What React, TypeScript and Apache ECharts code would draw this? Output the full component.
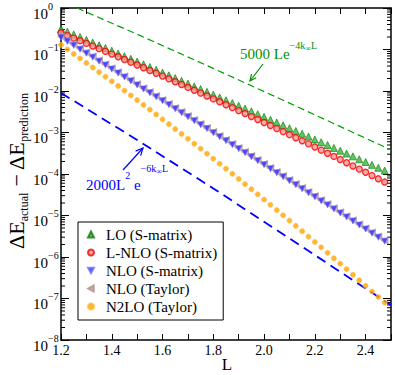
import React, { useEffect, useRef } from 'react';
import * as echarts from 'echarts';

const L = [1.2, 1.225, 1.25, 1.275, 1.3, 1.325, 1.35, 1.375, 1.4, 1.425, 1.45, 1.475, 1.5, 1.525, 1.55, 1.575, 1.6, 1.625, 1.65, 1.675, 1.7, 1.725, 1.75, 1.775, 1.8, 1.825, 1.85, 1.875, 1.9, 1.925, 1.95, 1.975, 2.0, 2.025, 2.05, 2.075, 2.1, 2.125, 2.15, 2.175, 2.2, 2.225, 2.25, 2.275, 2.3, 2.325, 2.35, 2.375, 2.4, 2.425, 2.45, 2.475];

const LO_S = [0.312, 0.269, 0.231, 0.199, 0.171, 0.147, 0.1265, 0.109, 0.0938, 0.0805, 0.0692, 0.0596, 0.0512, 0.044, 0.0378, 0.0324, 0.0278, 0.0239, 0.0205, 0.0176, 0.0151, 0.0129, 0.0111, 0.00953, 0.00817, 0.007, 0.006, 0.00514, 0.00442, 0.00378, 0.00324, 0.00277, 0.00238, 0.00203, 0.00174, 0.00149, 0.00127, 0.00109, 0.000933, 0.000798, 0.000682, 0.000583, 0.000499, 0.000426, 0.000364, 0.000311, 0.000266, 0.000227, 0.000194, 0.000166, 0.000141, 0.000121];

const LNLO_S = [0.251, 0.217, 0.188, 0.163, 0.14, 0.121, 0.105, 0.0901, 0.0776, 0.0668, 0.0574, 0.0494, 0.0424, 0.0364, 0.0312, 0.0267, 0.0229, 0.0196, 0.0167, 0.0143, 0.0122, 0.0104, 0.00889, 0.00758, 0.00646, 0.0055, 0.00467, 0.00397, 0.00337, 0.00286, 0.00242, 0.00205, 0.00174, 0.00147, 0.00124, 0.00105, 0.000886, 0.000748, 0.00063, 0.000531, 0.000447, 0.000376, 0.000316, 0.000265, 0.000223, 0.000187, 0.000156, 0.000131, 0.00011, 0.0000917, 0.0000766, 0.000064];

const NLO_S = [0.195, 0.157, 0.126, 0.101, 0.0813, 0.0652, 0.0524, 0.0421, 0.0337, 0.0271, 0.0217, 0.0175, 0.014, 0.0112, 0.00902, 0.00723, 0.00581, 0.00466, 0.00373, 0.00299, 0.0024, 0.00192, 0.00154, 0.00124, 0.000991, 0.000793, 0.000635, 0.000509, 0.000407, 0.000327, 0.000261, 0.000209, 0.000168, 0.000134, 0.000107, 0.0000859, 0.0000689, 0.0000551, 0.0000441, 0.0000352, 0.0000282, 0.0000225, 0.000018, 0.0000144, 0.0000115, 0.0000092, 0.00000736, 0.00000589, 0.0000047, 0.00000376, 0.000003, 0.0000024];

const NLO_T = [0.205, 0.164, 0.132, 0.106, 0.085, 0.0683, 0.0548, 0.044, 0.0353, 0.0283, 0.0227, 0.0182, 0.0146, 0.0117, 0.0094, 0.00755, 0.00606, 0.00486, 0.00389, 0.00312, 0.0025, 0.002, 0.00161, 0.00129, 0.00103, 0.000827, 0.000662, 0.000531, 0.000424, 0.000341, 0.000272, 0.000218, 0.000175, 0.00014, 0.000112, 0.0000896, 0.0000718, 0.0000575, 0.000046, 0.0000367, 0.0000294, 0.0000235, 0.0000188, 0.000015, 0.000012, 0.0000096, 0.00000768, 0.00000614, 0.0000049, 0.00000392, 0.00000313, 0.0000025];

const N2LO_T = [0.129, 0.1005, 0.0783, 0.061, 0.0474, 0.0368, 0.0285, 0.0221, 0.0171, 0.0132, 0.0102, 0.00783, 0.00603, 0.00463, 0.00355, 0.00272, 0.00208, 0.00159, 0.00121, 0.000926, 0.000705, 0.000536, 0.000407, 0.000309, 0.000234, 0.000177, 0.000134, 0.000101, 0.000076, 0.0000572, 0.000043, 0.0000323, 0.0000242, 0.0000181, 0.0000135, 0.0000101, 0.00000754, 0.00000562, 0.00000418, 0.0000031, 0.0000023, 0.00000171, 0.00000126, 0.000000933, 0.00000069, 0.000000508, 0.000000374, 0.000000275, 0.000000202, 0.000000148, 0.000000109, 0.0000000794];

const GUIDE4_X = [1.263, 1.5, 1.8, 2.1, 2.5];
const GUIDE4_Y = [1.0, 0.233, 0.035, 0.0051, 0.00038];
const GUIDE6_X = [1.2, 1.5, 1.8, 2.1, 2.5];
const GUIDE6_Y = [0.009, 0.00066, 0.000045, 0.0000028, 0.000000069];

const SERIES_NAMES = ['LO (S-matrix)', 'L-NLO (S-matrix)', 'NLO (S-matrix)', 'NLO (Taylor)', 'N2LO (Taylor)'];

const X_MIN = 1.2;
const X_MAX = 2.5;
const Y_MIN = 1e-8;
const Y_MAX = 1;

const FONT = "'Liberation Serif', 'Times New Roman', Times, serif";

const TRI_DOWN = 'path://M0,0 L10,0 L5,9 Z';
const TRI_LEFT = 'path://M9,0 L9,10 L0,5 Z';

export default function App() {
  const ref = useRef<HTMLDivElement>(null);
  useEffect(() => {
    if (!ref.current) return;
    document.body.style.margin = '0';
    const chart = echarts.init(ref.current, null, { renderer: 'svg' });

    const minorVals: number[][] = [];
    for (let e = -8; e < 0; e++) {
      for (let m = 2; m <= 9; m++) minorVals.push([X_MIN, m * Math.pow(10, e)]);
    }

    const pair = (ys: number[]) => L.map((x, i) => [x, ys[i]]);

    const yLabelFmt = (v: number) => {
      const ex = Math.round(Math.log10(v));
      const s = ex < 0 ? '\u2212' + -ex : String(ex);
      return '{b|10}{e|' + s + '}';
    };

    const axisLine = { show: true, lineStyle: { color: '#000', width: 1.5 } };

    const option: any = {
      animation: false,
      backgroundColor: '#fff',
      textStyle: { fontFamily: FONT },
      grid: { left: 61, right: 4, top: 8, bottom: 35, containLabel: false, outerBoundsMode: 'none' },
      xAxis: [
        {
          type: 'value', position: 'bottom', min: X_MIN, max: X_MAX, interval: 0.1,
          axisLine, splitLine: { show: false },
          axisTick: { inside: true, length: 6, lineStyle: { color: '#000', width: 1 } },
          axisLabel: {
            margin: 3, color: '#000', fontFamily: FONT, fontSize: 14,
            formatter: (v: number) => (Math.round(v * 10) % 2 === 0 && v < 2.45 ? v.toFixed(1) : ''),
          },
        },
        {
          type: 'value', position: 'top', min: X_MIN, max: X_MAX, interval: 0.1,
          axisLine, splitLine: { show: false },
          axisTick: { inside: true, length: 6, lineStyle: { color: '#000', width: 1 } },
          axisLabel: { show: false },
        },
      ],
      yAxis: [
        {
          type: 'log', logBase: 10, position: 'left', min: Y_MIN, max: Y_MAX, interval: 1,
          axisLine, splitLine: { show: false },
          axisTick: { inside: true, length: 8, lineStyle: { color: '#000', width: 1 } },
          axisLabel: {
            align: 'left', margin: 28, color: '#000', fontFamily: FONT,
            padding: [6, 0, 0, 0],
            formatter: yLabelFmt,
            rich: {
              b: { fontFamily: FONT, fontSize: 15, lineHeight: 20, verticalAlign: 'bottom', color: '#000' },
              e: { fontFamily: FONT, fontSize: 10, lineHeight: 10, verticalAlign: 'top', color: '#000' },
            },
          },
        },
        {
          type: 'log', logBase: 10, position: 'right', min: Y_MIN, max: Y_MAX, interval: 1,
          axisLine, splitLine: { show: false },
          axisTick: { inside: true, length: 8, lineStyle: { color: '#000', width: 1 } },
          axisLabel: { show: false },
        },
      ],
      legend: {
        data: [
          { name: SERIES_NAMES[0], icon: 'triangle' },
          { name: SERIES_NAMES[1], icon: 'circle' },
          { name: SERIES_NAMES[2], icon: TRI_DOWN },
          { name: SERIES_NAMES[3], icon: TRI_LEFT },
          { name: SERIES_NAMES[4], icon: 'circle' },
        ],
        orient: 'vertical', left: 78, top: 222,
        padding: [5, 6, 6, 9],
        itemWidth: 6, itemHeight: 6, itemGap: 3,
        borderColor: '#000', borderWidth: 1, backgroundColor: '#fff',
        textStyle: { fontFamily: FONT, fontSize: 15, color: '#000', lineHeight: 15, padding: [0, 0, 0, 7] },
      },
      series: [
        {
          type: 'custom', xAxisIndex: 0, yAxisIndex: 0, silent: true, clip: false,
          data: minorVals,
          renderItem: (params: any, api: any) => {
            const v = api.value(1);
            const pl = api.coord([X_MIN, v]);
            const pr = api.coord([X_MAX, v]);
            const st = { stroke: '#000', lineWidth: 1 };
            return {
              type: 'group',
              children: [
                { type: 'line', shape: { x1: pl[0], y1: pl[1], x2: pl[0] + 4, y2: pl[1] }, style: st },
                { type: 'line', shape: { x1: pr[0], y1: pr[1], x2: pr[0] - 4, y2: pr[1] }, style: st },
              ],
            };
          },
        },
        {
          type: 'line', name: 'g4', data: GUIDE4_X.map((x, i) => [x, GUIDE4_Y[i]]),
          showSymbol: false, symbol: 'none',
          lineStyle: { color: '#00a000', width: 1.2, type: [7, 4] },
        },
        {
          type: 'line', name: 'g6', data: GUIDE6_X.map((x, i) => [x, GUIDE6_Y[i]]),
          showSymbol: false, symbol: 'none',
          lineStyle: { color: '#0000ff', width: 1.8, type: [10, 6] },
        },
        {
          type: 'scatter', name: SERIES_NAMES[0], data: pair(LO_S),
          symbol: 'triangle', symbolSize: 7,
          itemStyle: { color: '#3cb43c', borderColor: '#0a7a0a', borderWidth: 0.8 },
        },
        {
          type: 'scatter', name: SERIES_NAMES[1], data: pair(LNLO_S),
          symbol: 'circle', symbolSize: 6,
          itemStyle: { color: '#ff9090', borderColor: '#ee0000', borderWidth: 1.3 },
        },
        {
          type: 'scatter', name: SERIES_NAMES[3], data: pair(NLO_T), z: 2,
          symbol: 'triangle', symbolRotate: 90, symbolSize: 7,
          itemStyle: { color: '#c4a0a0', borderColor: '#b08a8a', borderWidth: 0.8 },
        },
        {
          type: 'scatter', name: SERIES_NAMES[2], data: pair(NLO_S), z: 3,
          symbol: 'triangle', symbolRotate: 180, symbolSize: 6,
          itemStyle: { color: '#2a2aff', borderColor: '#7070ff', borderWidth: 0.8 },
        },
        {
          type: 'scatter', name: SERIES_NAMES[4], data: pair(N2LO_T), z: 3,
          symbol: 'circle', symbolSize: 5,
          itemStyle: { color: '#ffa500', borderColor: '#ffb733', borderWidth: 0.8 },
        },
      ],
      graphic: [
        {
          type: 'text', x: 227, y: 356,
          style: {
            text: 'L', align: 'center', verticalAlign: 'top',
            fontFamily: FONT, fontSize: 17, fill: '#000',
          },
        },
        {
          type: 'text', x: 3.5, y: 171, rotation: Math.PI / 2,
          style: {
            text: '{b|\u0394E}{s|actual}{b| \u2212 \u0394E}{s|prediction}',
            align: 'center', verticalAlign: 'top',
            rich: {
              b: { fontFamily: FONT, fontSize: 22, lineHeight: 26, height: 26, verticalAlign: 'middle', fill: '#000' },
              s: { fontFamily: FONT, fontSize: 12, lineHeight: 26, height: 12, verticalAlign: 'bottom', fill: '#000' },
            },
          },
        },
        {
          type: 'text', x: 240, y: 40,
          style: {
            text: '{m|5000 Le}{p|\u22124k}{i|\u221e}{p|L}',
            align: 'left', verticalAlign: 'top',
            rich: {
              m: { fontFamily: FONT, fontSize: 15, lineHeight: 22, height: 16, verticalAlign: 'bottom', fill: '#009000' },
              p: { fontFamily: FONT, fontSize: 10, lineHeight: 22, height: 10, verticalAlign: 'top', fill: '#009000' },
              i: { fontFamily: FONT, fontSize: 8, lineHeight: 22, height: 16, verticalAlign: 'top', fill: '#009000' },
            },
          },
        },
        {
          type: 'text', x: 86, y: 167,
          style: {
            text: '{m|2000L}{q|2}{m| e}{p|\u22126k}{i|\u221e}{p|L}',
            align: 'left', verticalAlign: 'top',
            rich: {
              m: { fontFamily: FONT, fontSize: 15, lineHeight: 26, height: 16, verticalAlign: 'bottom', fill: '#0000ff' },
              q: { fontFamily: FONT, fontSize: 10, lineHeight: 26, height: 16, verticalAlign: 'top', fill: '#0000ff' },
              p: { fontFamily: FONT, fontSize: 10, lineHeight: 26, height: 2, verticalAlign: 'top', fill: '#0000ff' },
              i: { fontFamily: FONT, fontSize: 8, lineHeight: 26, height: 8, verticalAlign: 'top', fill: '#0000ff' },
            },
          },
        },
        { type: 'line', shape: { x1: 263, y1: 64, x2: 250, y2: 81 }, style: { stroke: '#009000', lineWidth: 1.2 } },
        { type: 'polyline', shape: { points: [[256.2, 77.8], [250, 81], [251.5, 74.2]] }, style: { stroke: '#009000', lineWidth: 1.2, fill: null } },
        { type: 'line', shape: { x1: 123, y1: 170, x2: 143, y2: 148 }, style: { stroke: '#0000ff', lineWidth: 1.2 } },
        { type: 'polyline', shape: { points: [[135.6, 151.1], [143, 148], [140.6, 155.6]] }, style: { stroke: '#0000ff', lineWidth: 1.2, fill: null } },
      ],
    };

    chart.setOption(option);
    return () => chart.dispose();
  }, []);

  return <div ref={ref} style={{ width: 395, height: 375 }} />;
}
